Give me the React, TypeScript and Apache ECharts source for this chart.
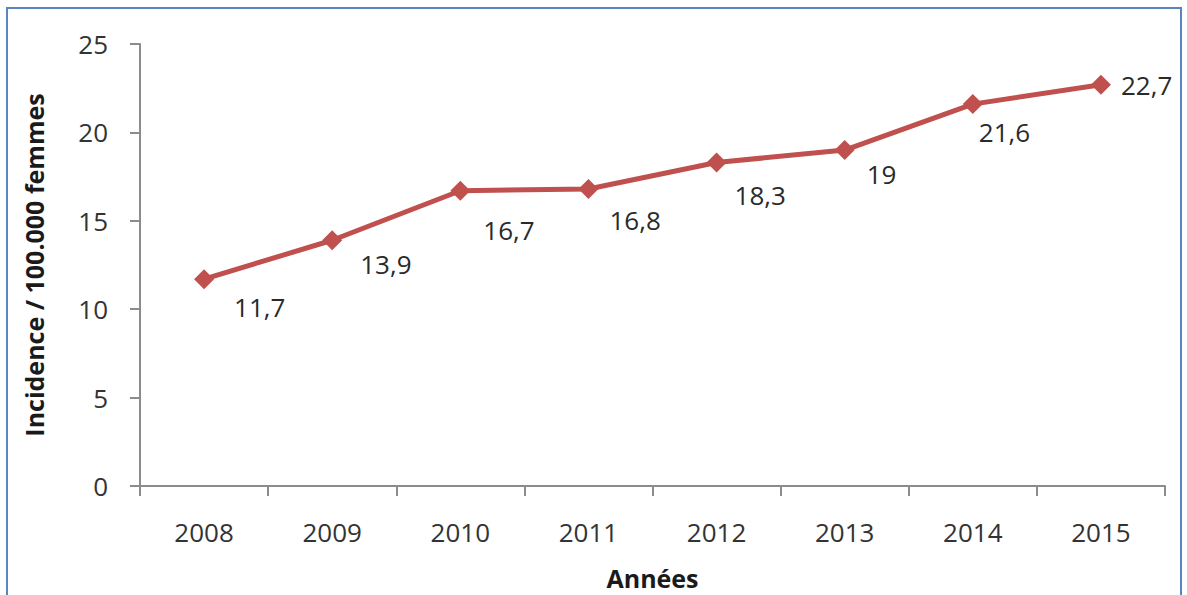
import React, { useEffect, useRef } from "react";
import * as echarts from "echarts";

const years = ["2008", "2009", "2010", "2011", "2012", "2013", "2014", "2015"];
const incidence = [11.7, 13.9, 16.7, 16.8, 18.3, 19, 21.6, 22.7];
const yTicks = { min: 0, max: 25, interval: 5 };
const yAxisTitle = "Incidence / 100.000 femmes";
const xAxisTitle = "Années";

// label placement (style only), relative to position "right"
const labelOffsets: [number, number][] = [
  [15, 28], [13, 24], [8, 39], [6, 31], [3, 33], [7, 24], [-9, 28], [5, 0],
];

export default function App() {
  const ref = useRef<HTMLDivElement>(null);
  useEffect(() => {
    if (!ref.current) return;
    const chart = echarts.init(ref.current, undefined, { renderer: "svg" });
    const font = "'Open Sans', 'Liberation Sans', sans-serif";
    chart.setOption({
      animation: false,
      backgroundColor: "#ffffff",
      textStyle: { fontFamily: font },
      grid: { left: 140, right: 22, top: 44, bottom: 109, containLabel: false },
      graphic: [
        {
          type: "rect",
          shape: { x: 7, y: 8, width: 1174, height: 620 },
          style: { fill: "none", stroke: "#5b84c4", lineWidth: 2 },
          silent: true,
        },
      ],
      xAxis: {
        type: "category",
        data: years,
        boundaryGap: true,
        name: xAxisTitle,
        nameLocation: "middle",
        nameGap: 79,
        nameTextStyle: { fontFamily: font, fontSize: 25, fontWeight: "bold", color: "#1a1a1a" },
        axisLine: { lineStyle: { color: "#8c8c8c", width: 2 } },
        axisTick: { show: true, alignWithLabel: false, length: 10, lineStyle: { color: "#8c8c8c", width: 2 } },
        axisLabel: { fontFamily: font, fontSize: 26, color: "#333333", margin: 33 },
        splitLine: { show: false },
      },
      yAxis: {
        type: "value",
        min: yTicks.min,
        max: yTicks.max,
        interval: yTicks.interval,
        name: yAxisTitle,
        nameLocation: "middle",
        nameGap: 94,
        nameRotate: 90,
        nameTextStyle: { fontFamily: font, fontSize: 25, fontWeight: "bold", color: "#1a1a1a" },
        axisLine: { show: true, lineStyle: { color: "#8c8c8c", width: 2 } },
        axisTick: { show: true, length: 10, lineStyle: { color: "#8c8c8c", width: 2 } },
        axisLabel: { fontFamily: font, fontSize: 26, color: "#333333", margin: 32 },
        splitLine: { show: false },
      },
      series: [
        {
          type: "line",
          data: incidence.map((v, i) => ({
            value: v,
            label: { offset: labelOffsets[i] },
          })),
          symbol: "diamond",
          symbolSize: 20,
          lineStyle: { color: "#c0504d", width: 5 },
          itemStyle: { color: "#c0504d" },
          label: {
            show: true,
            position: "right",
            fontFamily: font,
            fontSize: 26,
            color: "#2a2a2a",
            formatter: (p: any) => String(p.value).replace(".", ","),
          },
        },
      ],
    });
    return () => chart.dispose();
  }, []);
  return (
    <div
      ref={ref}
      style={{ position: "fixed", left: 0, top: 0, width: 1187, height: 595 }}
    />
  );
}
